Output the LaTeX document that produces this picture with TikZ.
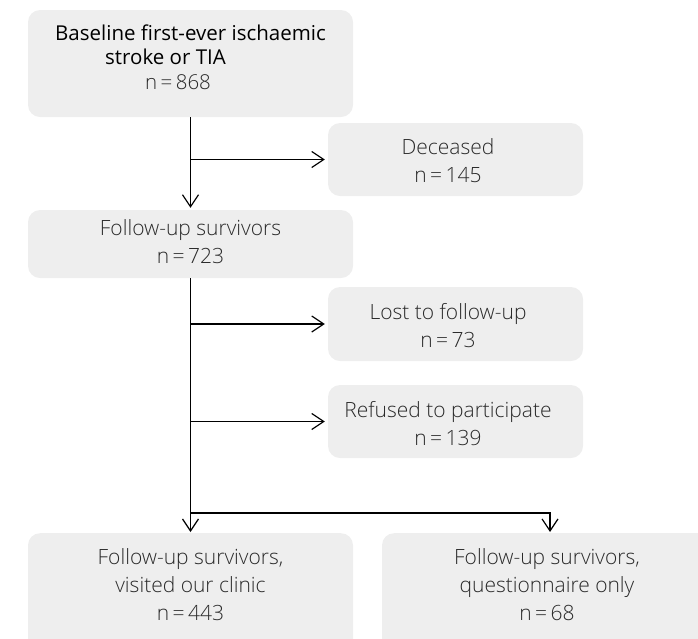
\documentclass[tikz,border=0pt]{standalone}
\usepackage{fontspec}
\setmainfont{Open Sans}
\newfontfamily\lightfont{Open Sans Light}
\usetikzlibrary{arrows.meta}
\definecolor{boxgray}{HTML}{EEEEEE}
\definecolor{textgray}{HTML}{2A2A2A}
\tikzset{
  box/.style={fill=boxgray, rounded corners=12pt, inner sep=0pt},
  txt/.style={inner sep=0pt, align=center, font=\lightfont\fontsize{21}{28}\selectfont, text=textgray},
  arr/.style={draw=black, line width=1.2pt, -{Straight Barb[length=12pt,width=16pt,line width=1.2pt]}},
}
\begin{document}
\begin{tikzpicture}[x=1pt,y=-1pt]
\useasboundingbox (0,0) rectangle (698,638);
% boxes
\node[box, minimum width=325pt, minimum height=107pt] (base) at (190.5,63.5) {};
\node[box, minimum width=255pt, minimum height=73pt] (dec) at (455.5,159.5) {};
\node[box, minimum width=325pt, minimum height=68pt] (fu) at (190.5,244) {};
\node[box, minimum width=255pt, minimum height=74pt] (lost) at (455.5,324) {};
\node[box, minimum width=255pt, minimum height=73pt] (refu) at (455.5,421.5) {};
\node[box, minimum width=325pt, minimum height=130pt, anchor=north] (bl) at (190.5,533) {};
\node[box, minimum width=336pt, minimum height=130pt, anchor=north] (br) at (550,533) {};
% texts
\node[txt, align=left, font=\fontsize{20.5}{24.5}\selectfont, text=black] (basetext) at (190.5,57)
  {Baseline first-ever ischaemic\\
   \hspace*{50pt}stroke or TIA\\
   \hspace*{90pt}{\lightfont\color{textgray}n\,=\,868}};
\node[txt] (dectext) at (448,161) {Deceased\\n\,=\,145};
\node[txt] (futext) at (190.5,242) {Follow-up survivors\\n\,=\,723};
\node[txt] (losttext) at (448,325.5) {Lost to follow-up\\n\,=\,73};
\node[txt] (refutext) at (448,424) {Refused to participate\\n\,=\,139};
\node[txt] (bltext) at (190.5,585) {Follow-up survivors,\\visited our clinic\\n\,=\,443};
\node[txt] (brtext) at (547,585) {Follow-up survivors,\\questionnaire only\\n\,=\,68};
% connectors
\coordinate (split) at (190.5,513);
\draw[arr, shorten >=2pt] (base.south) -- (fu.north);
\draw[arr, shorten >=3pt] (base.south |- dec.west) -- (dec.west);
\draw[arr, shorten >=1pt] (fu.south) -- (bl.north);
\draw[arr, shorten >=3pt] (fu.south |- lost.west) -- (lost.west);
\draw[arr, shorten >=3pt] (fu.south |- refu.west) -- (refu.west);
\draw[arr, shorten >=1pt] (split) -| (br.north);
\end{tikzpicture}
\end{document}
